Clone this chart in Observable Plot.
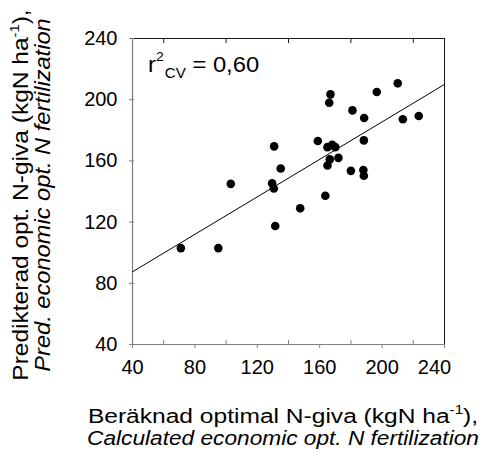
<!DOCTYPE html>
<html>
<head>
<meta charset="utf-8">
<script src="https://cdn.jsdelivr.net/npm/d3@7"></script>
<script src="https://cdn.jsdelivr.net/npm/@observablehq/plot@0.6"></script>
<style>
  html, body { margin: 0; padding: 0; background: #fff; }
  #chart svg { display: block; }
</style>
</head>
<body>
<div id="chart"></div>
<script>
// Calculated economic optimum N (x) and predicted optimum N (y), kgN/ha
const calcN = [71, 95, 103, 129.5, 130.6, 135, 131.5, 130.8, 147.5, 163.6, 165, 166.5, 172, 180, 188, 188.3, 158.8, 165, 168, 170, 166.9, 166.1, 181, 188.5, 188.3, 196.6, 210, 213.3, 223.5];
const predN = [103, 103, 145, 145.3, 142, 155, 117.5, 169.5, 129, 137.2, 157, 161, 162, 153.5, 154, 150.3, 173, 169, 170.5, 169, 203.5, 198, 193, 188, 173.4, 205, 210.7, 187.2, 189.3];
// Fitted line end points
const fitX = [40, 240];
const fitY = [87.5, 210];
// Tick values
const majorTicks = [40, 80, 120, 160, 200, 240];
const minorTicks = [60, 100, 140, 180, 220];
const axisDomain = [40, 240];
// Texts
const xTitle1 = ["Beräknad optimal N-giva (kgN ha", "-1", "),"];
const xTitle2 = "Calculated economic opt. N fertilization";
const yTitle1 = ["Predikterad opt. N-giva (kgN ha", "-1", "),"];
const yTitle2 = "Pred. economic opt. N fertilization";
const r2Parts = ["r", "2", "CV", " = 0,60"];
const r2Pos = [50.3, 218];

const points = calcN.map((x, i) => ({x, y: predN[i]}));
const fit = fitX.map((x, i) => ({x, y: fitY[i]}));

const FONT = "'Liberation Sans', Arial, Helvetica, sans-serif";
const GRAY = "#7f7f7f";
const DARK = "#1a1a1a";
const lastTick = majorTicks[majorTicks.length - 1];

const plot = Plot.plot({
  width: 504,
  height: 457,
  marginLeft: 132,
  marginRight: 60,
  marginTop: 38,
  marginBottom: 113,
  style: {fontFamily: FONT, fontSize: "20px", color: "black", background: "white", overflow: "visible"},
  x: {domain: axisDomain},
  y: {domain: axisDomain},
  marks: [
    Plot.ruleY([240], {stroke: DARK, strokeWidth: 1}),
    Plot.ruleX([240], {stroke: DARK, strokeWidth: 1}),
    Plot.ruleX([40], {stroke: GRAY, strokeWidth: 1.2}),
    Plot.ruleY([40], {stroke: GRAY, strokeWidth: 1.2}),
    Plot.axisX(majorTicks, {anchor: "bottom", tickSize: 4, tickPadding: 11, stroke: GRAY, fill: "black", label: null,
      tickFormat: d => d === lastTick ? "" : String(d)}),
    Plot.axisX([lastTick], {anchor: "bottom", tickSize: 0, tickPadding: 15, dx: -10, stroke: "none", fill: "black", label: null}),
    Plot.axisX(minorTicks, {anchor: "bottom", tickSize: -4, tickFormat: () => "", stroke: GRAY, label: null}),
    Plot.axisX(minorTicks, {anchor: "top", tickSize: -4, tickFormat: () => "", stroke: DARK, label: null}),
    Plot.axisY(majorTicks, {anchor: "left", tickSize: 3, tickPadding: 12, stroke: GRAY, fill: "black", label: null}),
    Plot.axisY(majorTicks, {anchor: "left", tickSize: -2, tickFormat: () => "", stroke: GRAY, label: null}),
    Plot.line(fit, {x: "x", y: "y", stroke: "black", strokeWidth: 1}),
    Plot.dot(points, {x: "x", y: "y", r: 4.3, fill: "black", stroke: "none"})
  ]
});

document.getElementById("chart").appendChild(plot);

const svg = d3.select(plot);
let sx, sy;
try { sx = plot.scale("x"); sy = plot.scale("y"); } catch (e) {}
const fx = v => sx && sx.apply ? sx.apply(v) : d3.scaleLinear(axisDomain, [132, 444])(v);
const fy = v => sy && sy.apply ? sy.apply(v) : d3.scaleLinear(axisDomain, [419, 38])(v);

// r2 annotation
const r2 = svg.append("text")
  .attr("transform", `translate(${fx(r2Pos[0])},${fy(r2Pos[1])}) scale(1.08,1)`)
  .attr("text-anchor", "start")
  .attr("font-family", FONT).attr("font-size", 22).attr("fill", "black");
r2.append("tspan").text(r2Parts[0]);
r2.append("tspan").attr("dy", -11).attr("font-size", 13).text(r2Parts[1]);
r2.append("tspan").attr("dy", 17).attr("dx", 1).attr("font-size", 14).text(r2Parts[2]);
r2.append("tspan").attr("dy", -6).attr("font-size", 22).text(r2Parts[3]);

// X axis title
const xc = (fx(40) + fx(240)) / 2 - 5;
const xt1 = svg.append("text")
  .attr("transform", `translate(${xc},423) scale(1.17,1)`).attr("text-anchor", "middle")
  .attr("font-family", FONT).attr("font-size", 21).attr("fill", "black");
xt1.append("tspan").text(xTitle1[0]);
xt1.append("tspan").attr("dy", -9).attr("font-size", 13).text(xTitle1[1]);
xt1.append("tspan").attr("dy", 9).text(xTitle1[2]);
svg.append("text")
  .attr("transform", `translate(${xc},445) scale(1.08,1)`).attr("text-anchor", "middle")
  .attr("font-family", FONT).attr("font-size", 21).attr("font-style", "italic").attr("fill", "black")
  .text(xTitle2);

// Y axis title
const yc = (fy(40) + fy(240)) / 2 + 4;
const yg = svg.append("g").attr("transform", `translate(28,${yc}) rotate(-90)`);
const yt1 = yg.append("text").attr("transform", "scale(1.14,1)").attr("text-anchor", "middle")
  .attr("font-family", FONT).attr("font-size", 21.5).attr("fill", "black");
yt1.append("tspan").text(yTitle1[0]);
yt1.append("tspan").attr("dy", -9).attr("font-size", 13).text(yTitle1[1]);
yt1.append("tspan").attr("dy", 9).text(yTitle1[2]);
yg.append("text").attr("transform", "translate(0,22) scale(1.1,1)").attr("text-anchor", "middle")
  .attr("font-family", FONT).attr("font-size", 21.5).attr("font-style", "italic").attr("fill", "black")
  .text(yTitle2);
</script>
</body>
</html>
